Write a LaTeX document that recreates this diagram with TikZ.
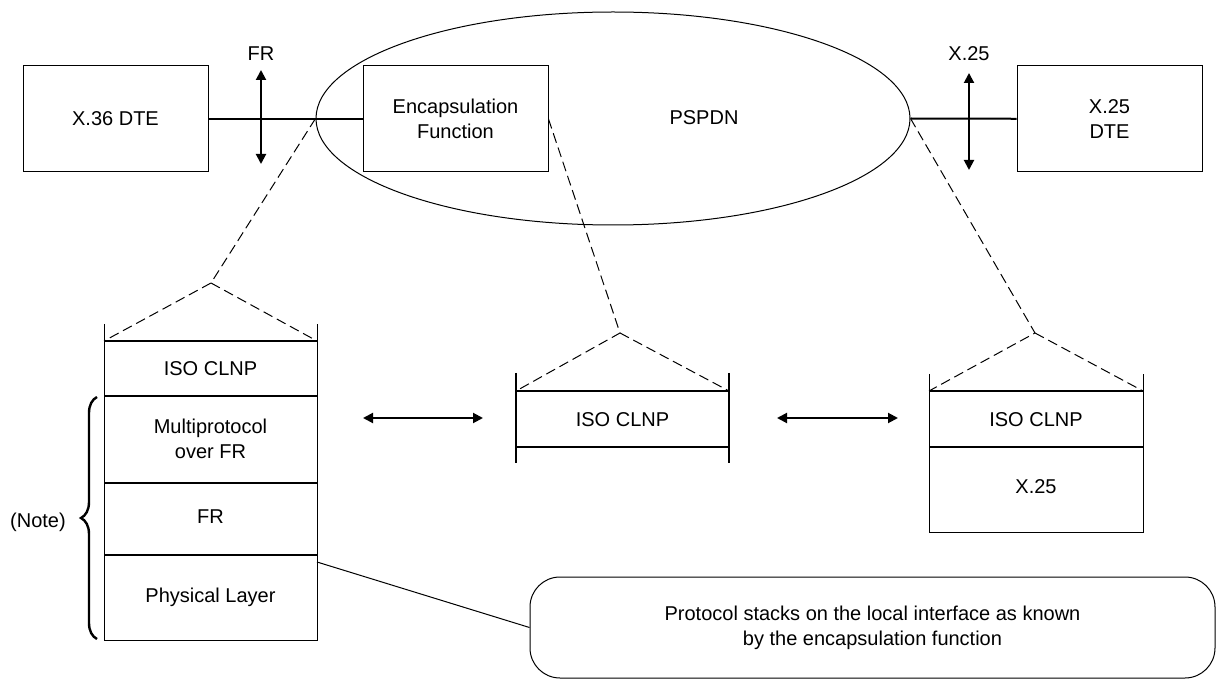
\documentclass[tikz,border=0pt]{standalone}
\usepackage{fontspec}
\setmainfont{Liberation Sans}
\usetikzlibrary{shapes.geometric,arrows.meta,decorations.pathreplacing}
\begin{document}
\begin{tikzpicture}[x=.5pt,y=-.5pt,line width=.5pt,font=\fontsize{10}{12.5}\selectfont,
	box/.style={draw,fill=white,minimum width=92.5pt,minimum height=53pt,align=center,inner sep=0pt},
	dl/.style={dash pattern=on 5pt off 2.5pt},
	dbl/.style={{Triangle[length=5pt,width=5pt]}-{Triangle[length=5pt,width=5pt]},line width=1pt},
	rule/.style={line width=1pt}]
	\useasboundingbox(0,0)rectangle(1216,679);
	\node[draw,ellipse,minimum width=297pt,minimum height=106.5pt,inner sep=0pt](net)at(613,118.5){};
	\node(pspdn)at(704,118){PSPDN};
	\node[box](x36)at(115.5,119){X.36 DTE};
	\node[box](enc)at(455.5,119){Encapsulation\\Function};
	\node[box](x25)at(1109.5,119){X.25\\DTE};
	\draw[rule](x36)--(enc);
	\draw[rule](net.east)--(x25);
	\node(fr)at(261,54){FR};
	\draw[dbl](261,70)coordinate(fru)--(261,164)coordinate(frd);
	\node(xx)at(969,54){X.25};
	\draw[dbl](969,73)coordinate(xxu)--(969,170)coordinate(xxd);
	\coordinate(tl)at(211,283);
	\coordinate(tm)at(620,333);
	\coordinate(tr)at(1035,333);
	\draw[dl](net.west)--(tl)--(104,341) (tl)--(317,341);
	\draw[dl](enc.east)--(tm)--(516,391) (tm)--(729,391);
	\draw[dl](net.east)--(tr)--(929,391) (tr)--(1143,391);
	\draw(104,324)--(104,640)--(317,640)--(317,324);
	\foreach \y in {341,396,483,555}\draw[rule](104,\y)--(317,\y);
	\draw[rule](516,373)--(516,463) (729,373)--(729,463);
	\foreach \y in {391,447}\draw[rule](516,\y)--(729,\y);
	\draw(929,374)--(929,532)--(1143,532)--(1143,374);
	\foreach \y in {391,447}\draw[rule](929,\y)--(1143,\y);
	\node(lcl)at(210.5,369){ISO CLNP};
	\node[align=center](lmp)at(210.5,439){Multiprotocol\\over FR};
	\node(lfr)at(210.5,517){FR};
	\node(lph)at(210.5,597){Physical Layer};
	\node(mcl)at(622.5,420){ISO CLNP};
	\node(rcl)at(1036,420){ISO CLNP};
	\node(rx)at(1036,487){X.25};
	\draw[dbl](363,418)coordinate(a1)--(483,418)coordinate(a2);
	\draw[dbl](777,418)coordinate(a3)--(898,418)coordinate(a4);
	\draw[line width=1.2pt,decorate,decoration={brace,amplitude=8pt}](97,639)--(97,397);
	\node(nt)at(38,522){(Note)};
	\node[draw,rounded corners=15pt,minimum width=342.5pt,minimum height=50.5pt,align=center](note)at(872.5,627.5){Protocol stacks on the local interface as known\\by the encapsulation function};
	\draw(317,562)coordinate(ph)--(note.west);
\end{tikzpicture}
\end{document}
